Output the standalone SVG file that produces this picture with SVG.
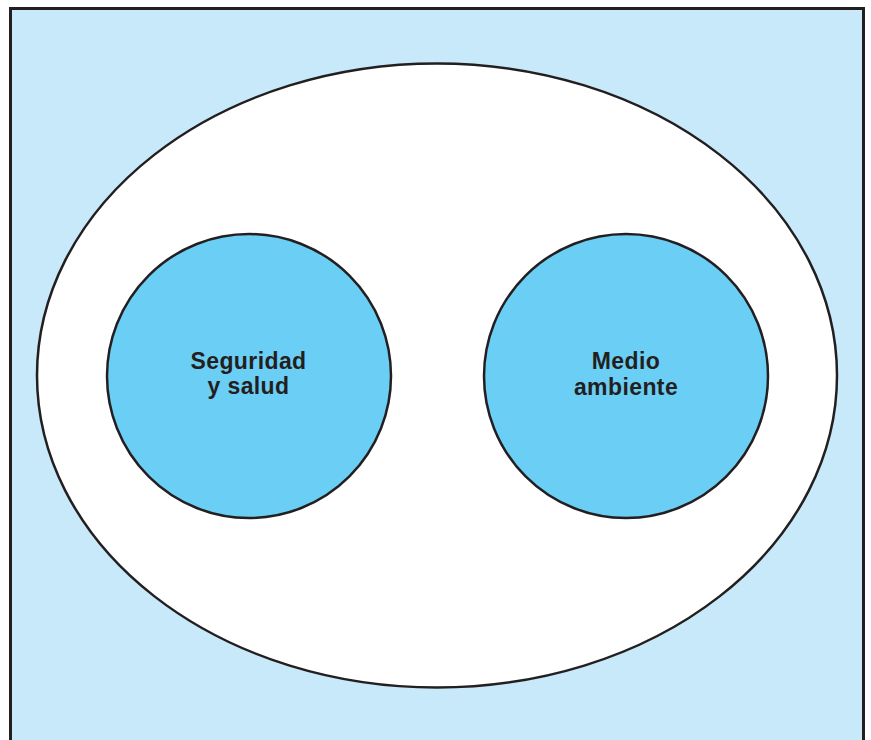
<svg xmlns="http://www.w3.org/2000/svg" width="871" height="740" viewBox="0 0 871 740">
<style>
.frame{fill:#C7E9F9;stroke:#231F20;stroke-width:3}
.outer{fill:#FFFFFF;stroke:#231F20;stroke-width:2.5}
.node{fill:#6BCEF5;stroke:#231F20;stroke-width:2.5}
.lbl{font-family:"Liberation Sans",Arial,sans-serif;font-weight:bold;font-size:23px;letter-spacing:0.4px;fill:#231F20;text-anchor:middle}
</style>
<rect class="frame" x="10.5" y="8.5" width="853" height="740"/>
<g id="container">
<ellipse class="outer" cx="437" cy="375.5" rx="400" ry="312"/>
</g>
<g id="connectors"></g>
<g id="seguridad">
<circle class="node" cx="249" cy="376" r="142"/>
<text class="lbl" x="248.5" y="369">Seguridad</text>
<text class="lbl" x="248.5" y="394">y salud</text>
</g>
<g id="medio">
<circle class="node" cx="626" cy="376" r="142"/>
<text class="lbl" x="626" y="369">Medio</text>
<text class="lbl" x="626" y="395">ambiente</text>
</g>
</svg>
